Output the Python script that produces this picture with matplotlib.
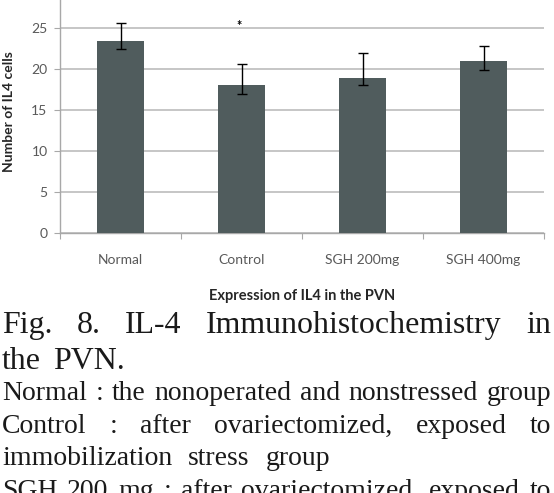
#IL-4 immunohistochemistry bar chart with the figure caption below it

import numpy as np
import matplotlib
matplotlib.use('Agg')
import matplotlib.pyplot as plt

# --- data ---
groups   = ['Normal', 'Control', 'SGH 200mg', 'SGH 400mg']
means    = [23.4, 18.0, 18.95, 21.0]
err_up   = [2.2, 2.6, 2.95, 1.8]
err_down = [0.95, 1.0, 0.95, 1.1]
sig_marks = ['', '*', '', '']        # significance mark above each group
sig_y     = [0, 25.2, 0, 0]

y_ticks = [0, 5, 10, 15, 20, 25]
y_label = 'Number of IL4 cells'
x_label = 'Expression of IL4 in the PVN'

caption_title = ['Fig. 8. IL-4 Immunohistochemistry in', 'the PVN.']
caption_body  = ['Normal : the nonoperated and nonstressed group',
                 'Control : after ovariectomized, exposed to',
                 'immobilization stress group',
                 'SGH 200 mg : after ovariectomized, exposed to']
title_justify = [True, False]
body_justify  = [True, True, False, True]

# --- figure ---
W, H = 554, 493
fig = plt.figure(figsize=(W / 100, H / 100), dpi=100)
sans = ['Lato', 'DejaVu Sans']
serif = ['Liberation Serif', 'DejaVu Serif']

ax = fig.add_axes([60 / W, 1 - 233 / H, 484 / W, 233 / H])
x = np.arange(len(groups))
ax.bar(x, means, width=0.39, color='#505c5d', zorder=3)
ax.errorbar(x, means, yerr=[err_down, err_up], fmt='none', ecolor='black',
            elinewidth=1, capsize=3.5, capthick=1, zorder=4)
for xi, m, yy in zip(x, sig_marks, sig_y):
    if m:
        ax.text(xi - 0.02, yy, m, ha='center', va='center', fontsize=9,
                fontweight='bold', family=sans, color='black')

ax.set_xlim(-0.5, len(groups) - 0.5)
ax.set_ylim(0, 28.4)
ax.set_yticks(y_ticks)
ax.yaxis.grid(True, color='#bcbcbc', linewidth=1.2)
ax.set_axisbelow(True)
for s in ['top', 'right']:
    ax.spines[s].set_visible(False)
for s in ['left', 'bottom']:
    ax.spines[s].set_color('#a8a8a8')
    ax.spines[s].set_linewidth(1.0)

# category boundaries get the tick marks, labels sit in the middle
ax.set_xticks(np.arange(-0.5, len(groups), 1.0))
ax.set_xticklabels([])
ax.set_xticks(x, minor=True)
ax.set_xticklabels(groups, minor=True, family=sans, fontsize=10, color='#595959')
ax.tick_params(axis='x', which='major', length=4, color='#a8a8a8')
ax.tick_params(axis='x', which='minor', length=0, pad=15)
ax.tick_params(axis='y', length=4, color='#a8a8a8', labelcolor='#595959',
               labelsize=10, pad=5)
for t in ax.get_yticklabels():
    t.set_family(sans)

fig.text(302 / W, 1 - 296 / H, x_label, ha='center', va='center',
         fontsize=10.5, fontweight='bold', family=sans, color='#262626')
fig.text(9 / W, 1 - 112 / H, y_label, ha='center', va='center', rotation=90,
         fontsize=10, fontweight='bold', family=sans, color='#262626')

# --- caption, justified like the printed page ---
renderer = fig.canvas.get_renderer()

def text_width(s, size):
    t = fig.text(0, 0, s, fontsize=size, family=serif)
    w = t.get_window_extent(renderer).width
    t.remove()
    return w

# sizes picked so single words roughly match their printed widths
title_size = 0.92 * 10 * 320 / text_width('Immunohistochemistry', 10)
body_size  = 10 * 170 / text_width('immobilization', 10)

def put_line(line, base_px, size, justify, gap, left=2, right=551):
    words = line.split(' ')
    arts = [fig.text(0, 1 - base_px / H, w, fontsize=size, family=serif,
                     va='baseline', ha='left', color='#1a1a1a') for w in words]
    widths = [a.get_window_extent(renderer).width for a in arts]
    if justify and len(words) > 1:
        gap = (right - left - sum(widths)) / (len(words) - 1)
    pos = left
    for a, w in zip(arts, widths):
        a.set_x(pos / W)
        pos += w + gap

for line, base, j in zip(caption_title, [333, 369], title_justify):
    put_line(line, base, title_size, j, gap=12)
for line, base, j in zip(caption_body, [400, 433, 465, 498], body_justify):
    put_line(line, base, body_size, j, gap=16)

fig.savefig('out.png', dpi=100)
